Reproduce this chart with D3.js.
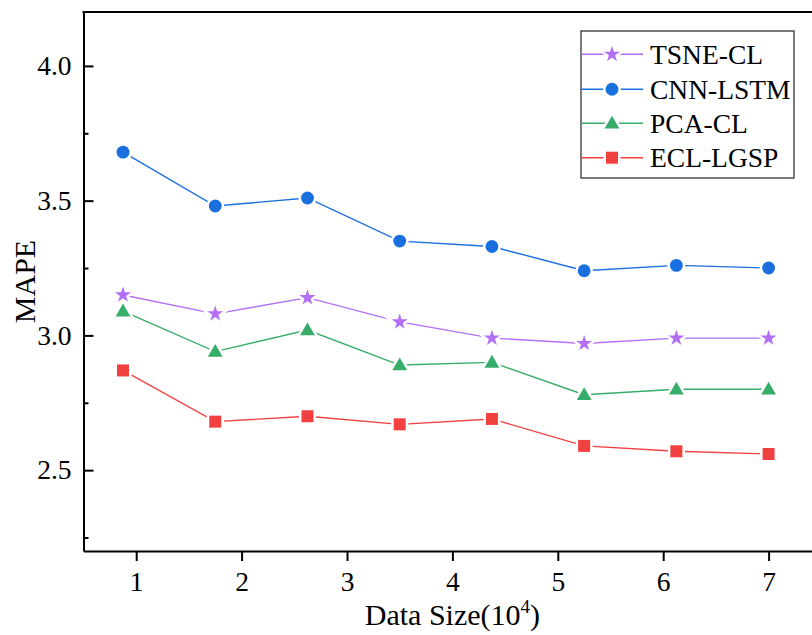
<!DOCTYPE html>
<html><head><meta charset="utf-8">
<script src="https://cdn.jsdelivr.net/npm/d3@7"></script>
<style>body{margin:0;background:#fff;} svg{display:block;}</style>
</head><body>
<svg id="chart" width="812" height="635"></svg>
<script>
const dataSizes = [0.875, 1.75, 2.625, 3.5, 4.375, 5.25, 6.125, 7.0];
const tsneCL  = [3.15, 3.08, 3.14, 3.05, 2.99, 2.97, 2.99, 2.99];
const cnnLSTM = [3.68, 3.48, 3.51, 3.35, 3.33, 3.24, 3.26, 3.25];
const pcaCL   = [3.09, 2.94, 3.02, 2.89, 2.90, 2.78, 2.80, 2.80];
const eclLGSP = [2.87, 2.68, 2.70, 2.67, 2.69, 2.59, 2.57, 2.56];
const seriesNames = ["TSNE-CL", "CNN-LSTM", "PCA-CL", "ECL-LGSP"];
const seriesColors = ["#B36FF5", "#1A6FDF", "#37AD6B", "#F14040"];
const seriesSymbols = ["star", "circle", "triangle", "square"];
const xTicks = [1, 2, 3, 4, 5, 6, 7];
const yTicks = [2.5, 3.0, 3.5, 4.0];
const yMinorTicks = [2.25, 2.75, 3.25, 3.75];

const seriesValues = [tsneCL, cnnLSTM, pcaCL, eclLGSP];

const svg = d3.select("#chart");
const FONT = "Liberation Serif, Times New Roman, serif";
const L = 83.5, R = 821.3, T = 12, B = 551;

const x = d3.scaleLinear().domain([0.5, 7.5]).range([L, R]);
const y = d3.scaleLinear().domain([2.2, 4.2]).range([B, T]);

// axes
const gx = svg.append("g").attr("transform", `translate(0,${B})`)
  .call(d3.axisBottom(x).tickValues(xTicks).tickFormat(d3.format("d")).tickSize(10).tickSizeOuter(0).tickPadding(10));
const gy = svg.append("g").attr("transform", `translate(${L},0)`)
  .call(d3.axisLeft(y).tickValues(yTicks).tickFormat(d3.format(".1f")).tickSize(-10).tickSizeOuter(0).tickPadding(12));
const gym = svg.append("g").attr("transform", `translate(${L},0)`)
  .call(d3.axisLeft(y).tickValues(yMinorTicks).tickFormat("").tickSize(-5).tickSizeOuter(0));
gym.select(".domain").remove();
[gx, gy, gym].forEach(g => {
  g.attr("font-family", FONT).attr("font-size", 27.5);
  g.selectAll(".domain").attr("stroke", "#000").attr("stroke-width", 2);
  g.selectAll(".tick line").attr("stroke", "#000").attr("stroke-width", 2);
  g.selectAll(".tick text").attr("fill", "#000");
});
// top border
svg.append("line").attr("x1", L - 1).attr("x2", R).attr("y1", T).attr("y2", T)
  .attr("stroke", "#000").attr("stroke-width", 2);

// axis titles
const xt = svg.append("text").attr("x", (L + R) / 2).attr("y", 625)
  .attr("text-anchor", "middle").attr("font-family", FONT).attr("font-size", 30).attr("fill", "#000");
xt.append("tspan").text("Data Size(10");
xt.append("tspan").attr("font-size", 19).attr("dy", -12).text("4");
xt.append("tspan").attr("dy", 12).text(")");

svg.append("text").attr("transform", `translate(35,${(T + B) / 2}) rotate(-90)`)
  .attr("text-anchor", "middle").attr("font-family", FONT).attr("font-size", 30).attr("fill", "#000")
  .text("MAPE");

// symbols
function symbolPath(kind) {
  const map = {
    star: d3.symbol(d3.symbolStar, 80),
    circle: d3.symbol(d3.symbolCircle, 130),
    triangle: d3.symbol(d3.symbolTriangle, 95),
    square: d3.symbol(d3.symbolSquare, 144)
  };
  return map[kind]();
}

const line = d3.line().x(d => x(d[0])).y(d => y(d[1]));
seriesValues.forEach((vals, i) => {
  const pts = dataSizes.map((d, j) => [d, vals[j]]);
  const g = svg.append("g");
  g.append("path").attr("d", line(pts)).attr("fill", "none")
    .attr("stroke", seriesColors[i]).attr("stroke-width", 1.4);
  g.selectAll("path.m").data(pts).enter().append("path").attr("class", "m")
    .attr("d", symbolPath(seriesSymbols[i]))
    .attr("transform", d => `translate(${x(d[0])},${y(d[1]) + (seriesSymbols[i] === "triangle" ? 1 : 0)})`)
    .attr("fill", seriesColors[i]).attr("stroke", "#fff").attr("stroke-width", 5)
    .attr("paint-order", "stroke");
});

// legend
const lg = svg.append("g");
lg.append("rect").attr("x", 581).attr("y", 31).attr("width", 213).attr("height", 147)
  .attr("fill", "#fff").attr("stroke", "#222").attr("stroke-width", 1.2);
const rowY = [54.3, 89.3, 123.3, 157.7];
seriesNames.forEach((name, i) => {
  const ry = rowY[i];
  lg.append("line").attr("x1", 581).attr("x2", 643).attr("y1", ry).attr("y2", ry)
    .attr("stroke", seriesColors[i]).attr("stroke-width", 1.4);
  lg.append("path").attr("d", symbolPath(seriesSymbols[i]))
    .attr("transform", `translate(612,${ry + (seriesSymbols[i] === "triangle" ? 1 : 0)})`)
    .attr("fill", seriesColors[i]).attr("stroke", "#fff").attr("stroke-width", 5)
    .attr("paint-order", "stroke");
  lg.append("text").attr("x", 650).attr("y", ry).attr("dy", "0.35em")
    .attr("font-family", FONT).attr("font-size", 27.5).attr("fill", "#000").text(name);
});
</script>
</body></html>
